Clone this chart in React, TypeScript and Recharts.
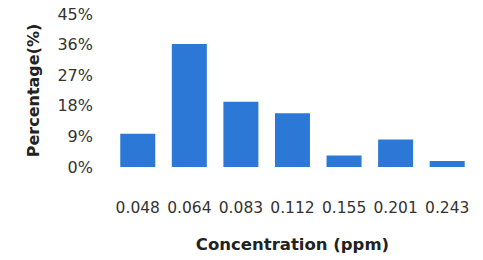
import { BarChart, Bar, XAxis, YAxis, Label } from "recharts"

const concentrations = ["0.048", "0.064", "0.083", "0.112", "0.155", "0.201", "0.243"]
const percentages = [9.8, 36.2, 19.2, 15.8, 3.4, 8.1, 1.8]
const yTicks = [0, 9, 18, 27, 36, 45]

const data = concentrations.map((c, i) => ({ conc: c, pct: percentages[i] }))

const font = "'DejaVu Sans', sans-serif"

export default function App() {
  return (
    <div style={{ position: "fixed", left: 0, top: 0, background: "#fff" }}>
      <BarChart
        width={483}
        height={260}
        data={data}
        margin={{ top: 14, right: 10, bottom: 0, left: 0 }}
        barCategoryGap="16%"
        style={{ fontFamily: font }}
      >
        <XAxis
          dataKey="conc"
          height={93}
          axisLine={false}
          tickLine={false}
          tickSize={0}
          tickMargin={35}
          interval={0}
          tick={{ fontSize: 15.5, fill: "#333" }}
        >
          <Label
            value="Concentration (ppm)"
            position="insideBottom"
            offset={10}
            style={{ fontSize: 16.5, fontWeight: 700, fill: "#222" }}
          />
        </XAxis>
        <YAxis
          width={112}
          domain={[0, 45]}
          ticks={yTicks}
          axisLine={false}
          tickLine={false}
          tickSize={0}
          tickMargin={19}
          tickFormatter={(v) => `${v}%`}
          tick={{ fontSize: 16, fill: "#333" }}
        >
          <Label
            value="Percentage(%)"
            angle={-90}
            position="insideLeft"
            offset={33}
            style={{ fontSize: 16, fontWeight: 700, fill: "#222", textAnchor: "middle" }}
          />
        </YAxis>
        <Bar dataKey="pct" fill="#2b78d6" isAnimationActive={false} />
      </BarChart>
    </div>
  )
}
